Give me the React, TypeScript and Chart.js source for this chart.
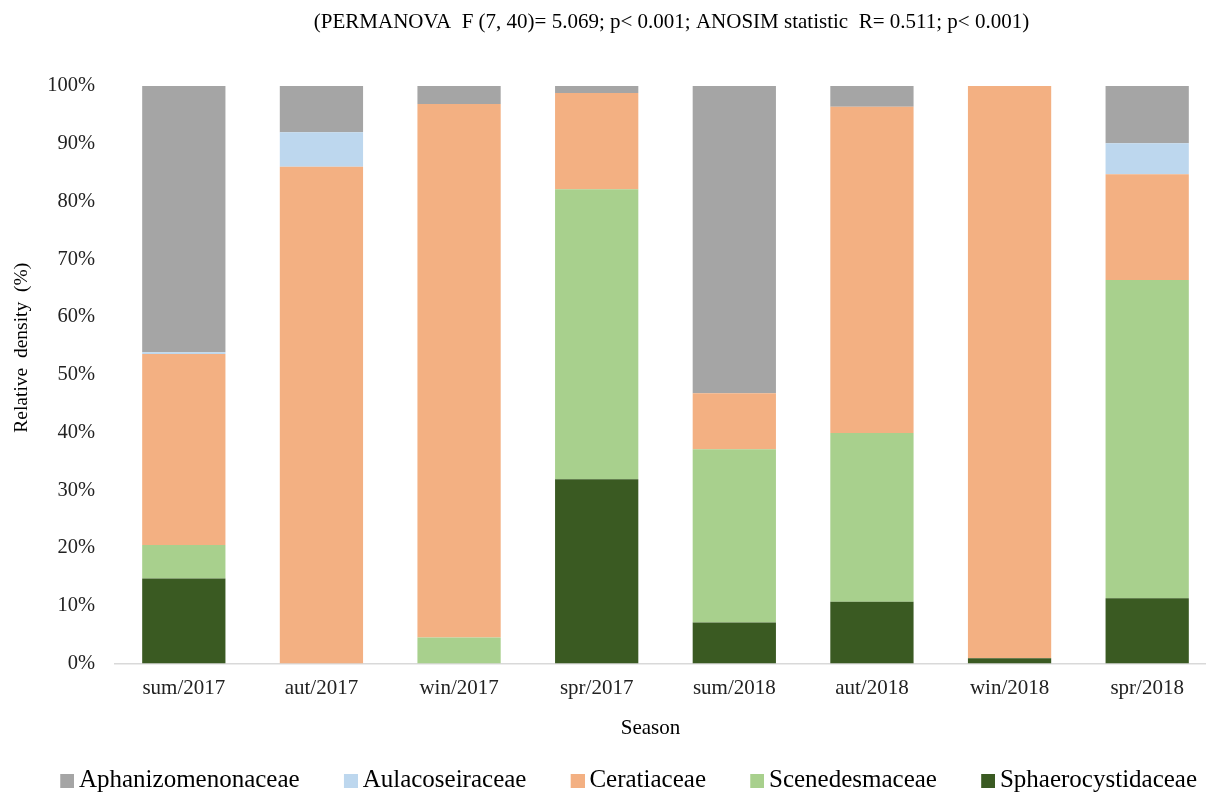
import React, { useEffect, useRef } from "react";
import { Chart, registerables } from "chart.js";

Chart.register(...registerables);

const seasons = ["sum/2017", "aut/2017", "win/2017", "spr/2017", "sum/2018", "aut/2018", "win/2018", "spr/2018"];
const sphaerocystidaceae = [14.7, 0, 0, 31.9, 7.1, 10.7, 0.9, 11.3];
const scenedesmaceae = [5.8, 0, 4.5, 50.2, 30.0, 29.2, 0, 55.1];
const ceratiaceae = [33.1, 86.0, 92.4, 16.7, 9.7, 56.5, 99.1, 18.3];
const aulacoseiraceae = [0.3, 6.0, 0, 0, 0, 0, 0, 5.4];
const aphanizomenonaceae = [46.1, 8.0, 3.1, 1.2, 53.2, 3.6, 0, 9.9];
const yTicks = [0, 10, 20, 30, 40, 50, 60, 70, 80, 90, 100];
const TITLE = "(PERMANOVA  F (7, 40)= 5.069; p< 0.001; ANOSIM statistic  R= 0.511; p< 0.001)";
const X_TITLE = "Season";
const Y_TITLE = "Relative  density  (%)";

const FONT = "'Liberation Serif', 'Times New Roman', serif";

// legend marker: square sits at the right end of a wider transparent image,
// so it is drawn close to its label text
function markerImage(color: string) {
  const c = document.createElement("canvas");
  c.width = 22;
  c.height = 14;
  const g = c.getContext("2d")!;
  g.fillStyle = color;
  g.fillRect(8, 0, 14, 14);
  return c;
}

const titles = {
  id: "titles",
  afterDraw(chart: any) {
    const { ctx, chartArea } = chart;
    const cx = (chartArea.left + chartArea.right) / 2;
    const cy = (chartArea.top + chartArea.bottom) / 2;
    ctx.save();
    ctx.fillStyle = "#000";
    ctx.textAlign = "center";
    ctx.textBaseline = "middle";
    ctx.font = `21px ${FONT}`;
    ctx.fillText(TITLE, cx + 6, 22);
    ctx.fillText(X_TITLE, cx - 15, chartArea.bottom + 65);
    ctx.translate(chartArea.left - 93, cy - 27);
    ctx.rotate(-Math.PI / 2);
    ctx.font = `19.5px ${FONT}`;
    ctx.fillText(Y_TITLE, 0, 0);
    ctx.restore();
  },
};

export default function App() {
  const ref = useRef<HTMLCanvasElement>(null);
  useEffect(() => {
    const ctx = ref.current!;
    const chart = new Chart(ctx, {
      type: "bar",
      data: {
        labels: seasons,
        datasets: [
          { label: "Sphaerocystidaceae", data: sphaerocystidaceae, backgroundColor: "#3a5a22" },
          { label: "Scenedesmaceae", data: scenedesmaceae, backgroundColor: "#a8d08d" },
          { label: "Ceratiaceae", data: ceratiaceae, backgroundColor: "#f3b082" },
          { label: "Aulacoseiraceae", data: aulacoseiraceae, backgroundColor: "#bdd7ee" },
          { label: "Aphanizomenonaceae", data: aphanizomenonaceae, backgroundColor: "#a5a5a5" },
        ],
      },
      plugins: [titles],
      options: {
        animation: false,
        responsive: false,
        maintainAspectRatio: false,
        layout: { padding: { left: 15, right: 2, top: 86, bottom: 17 } },
        datasets: { bar: { categoryPercentage: 1, barPercentage: 0.605 } },
        plugins: {
          title: { display: false },
          legend: {
            position: "bottom",
            reverse: true,
            labels: {
              font: { family: FONT, size: 25 },
              color: "#000",
              usePointStyle: true,
              pointStyleWidth: 6.5,
              boxHeight: 14,
              padding: 44,
              generateLabels: (c: any) => {
                const items = Chart.defaults.plugins.legend.labels.generateLabels(c);
                return items.map((it: any) => ({ ...it, pointStyle: markerImage(it.fillStyle as string) }));
              },
            },
          },
          tooltip: { enabled: false },
        },
        scales: {
          x: {
            stacked: true,
            grid: { display: false },
            border: { display: true, color: "#d9d9d9", width: 1.5 },
            ticks: { font: { family: FONT, size: 21 }, color: "#222", padding: 4 },
            title: { display: false },
            afterFit: (s: any) => {
              s.height = 60.5;
            },
          },
          y: {
            stacked: true,
            min: 0,
            max: 100,
            grid: { display: false },
            border: { display: false },
            afterBuildTicks: (axis: any) => {
              axis.ticks = yTicks.map((v) => ({ value: v }));
            },
            ticks: {
              font: { family: FONT, size: 20.5 },
              color: "#222",
              padding: 12,
              callback: (v: any) => v + "%",
            },
            title: { display: false },
            afterFit: (s: any) => {
              s.width = 100;
            },
          },
          yR: {
            type: "linear",
            position: "right",
            display: true,
            grid: { display: false, drawTicks: false },
            border: { display: false },
            ticks: { display: false },
            afterFit: (s: any) => {
              s.width = 26;
            },
          },
        },
      },
    });
    return () => chart.destroy();
  }, []);
  return (
    <div style={{ position: "fixed", left: 0, top: 0, width: 1206, height: 792, overflow: "hidden", background: "#fff" }}>
      <canvas ref={ref} width={1244} height={820} style={{ display: "block", width: 1244, height: 820 }} />
    </div>
  );
}
